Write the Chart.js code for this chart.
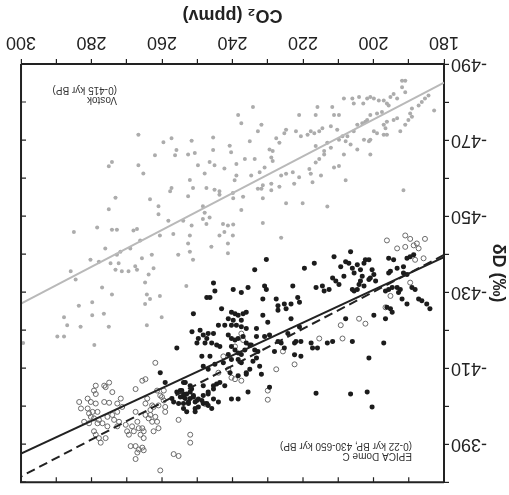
<!DOCTYPE html>
<html>
<head>
<meta charset="utf-8">
<script src="https://cdn.jsdelivr.net/npm/chart.js@4.4.1/dist/chart.umd.min.js"></script>
<style>
  html, body { margin: 0; padding: 0; background: #fff; }
  /* figure is printed upside down */
  #wrap { width: 509px; height: 495px; transform: rotate(180deg); }
</style>
</head>
<body>
<div id="wrap"><canvas id="co2Chart" width="509" height="495"></canvas></div>
<script>
// CO2 (ppmv) vs deltaD (permil) pairs
const vostok = [
  [191.9,-485.6],[191.0,-485.6],[191.9,-483.9],[191.0,-482.6],[184.4,-481.7],[185.4,-480.9],[186.3,-480.0],[187.2,-479.1],
  [182.8,-477.8],[189.1,-478.3],[189.6,-477.0],[189.1,-476.1],[190.1,-475.3],[191.0,-474.0],[192.4,-472.3],[194.3,-475.3],
  [193.3,-475.7],[196.2,-474.8],[197.1,-474.0],[196.6,-473.1],[199.0,-471.8],[197.1,-471.4],[196.2,-471.4],[199.9,-472.3],
  [200.9,-470.1],[202.7,-470.1],[200.9,-466.2],[204.6,-467.5],[206.5,-468.8],[207.9,-469.7],[207.4,-471.0],[208.8,-471.0],
  [205.6,-472.3],[204.6,-474.0],[203.2,-474.4],[202.3,-474.8],[201.8,-475.3],[204.1,-481.3],[206.0,-480.9],[205.6,-479.6],
  [202.9,-479.6],[201.8,-480.9],[200.9,-481.3],[199.9,-480.9],[198.5,-480.4],[197.1,-480.4],[196.2,-479.6],[195.2,-481.3],
  [194.3,-482.1],[193.3,-480.9],[195.7,-479.1],[199.0,-477.0],[197.6,-477.4],[200.9,-476.6],[208.4,-480.9],[211.7,-478.7],
  [209.8,-476.6],[211.2,-476.6],[212.1,-473.6],[210.3,-472.7],[215.9,-478.7],[216.4,-476.6],[221.1,-476.6],[214.5,-473.1],
  [215.4,-472.3],[217.8,-472.3],[218.7,-471.4],[216.8,-471.8],[220.6,-471.0],[222.0,-472.3],[224.8,-472.7],[225.3,-471.8],
  [227.6,-470.5],[226.7,-469.3],[229.5,-467.5],[228.6,-467.1],[229.0,-465.4],[228.6,-464.5],[231.8,-474.0],[232.8,-472.3],
  [234.2,-478.7],[238.4,-476.6],[237.5,-474.4],[235.1,-469.7],[236.5,-465.0],[238.9,-463.7],[233.7,-465.0],[230.9,-462.8],
  [232.3,-461.5],[234.7,-460.7],[238.9,-460.7],[239.4,-459.4],[232.8,-457.2],[231.4,-458.1],[231.8,-457.2],[229.0,-458.5],
  [229.0,-456.8],[226.7,-457.7],[226.2,-460.7],[224.8,-461.1],[222.9,-461.5],[222.5,-458.5],[221.1,-460.2],[218.2,-462.4],
  [217.8,-461.1],[217.3,-458.9],[214.9,-460.7],[216.4,-464.1],[215.4,-465.0],[214.0,-467.1],[214.0,-466.2],[212.1,-468.0],
  [211.2,-462.8],[209.8,-463.2],[207.9,-459.4],[208.4,-466.2],[201.3,-469.7],[191.5,-456.8],[224.8,-453.4],[220.1,-453.4],
  [213.1,-452.5],[231.4,-454.7],[237.0,-455.1],[237.5,-451.6],[239.8,-454.7],[239.8,-447.8],[231.4,-448.2],[226.2,-444.3],
  [216.4,-468.4],[213.1,-469.3],[209.8,-470.1],[243.7,-455.6],
  [266.7,-471.4],[259.6,-469.4],[257.3,-470.5],[251.6,-469.8],[245.5,-470.7],[240.8,-468.5],[240.4,-466.8],[245.5,-467.4],
  [255.9,-467.4],[256.3,-466.0],[252.6,-466.2],[250.7,-466.6],[262.0,-466.0],[266.7,-463.4],[265.3,-461.2],[274.2,-464.2],
  [275.1,-463.1],[249.8,-463.4],[246.5,-464.2],[245.1,-463.4],[242.3,-462.5],[247.9,-461.2],[252.1,-459.5],[251.2,-457.4],
  [247.4,-457.4],[245.1,-456.9],[243.7,-456.5],[239.9,-456.1],[257.3,-457.4],[257.7,-456.5],[263.4,-454.4],[261.0,-452.6],
  [261.0,-450.5],[273.2,-454.8],[275.1,-451.8],[252.6,-455.2],[248.4,-452.6],[247.9,-450.9],[246.5,-449.6],[248.4,-449.2],
  [247.4,-447.9],[251.6,-447.5],[254.0,-448.8],[258.2,-448.8],[242.7,-447.9],[241.3,-447.5],[242.3,-445.8],[243.7,-444.9],
  [239.9,-444.9],[241.3,-442.8],[241.3,-440.2],[246.0,-441.9],[252.1,-444.9],[252.6,-442.8],[252.1,-440.6],[251.2,-438.5],
  [255.4,-439.8],[256.8,-445.3],[260.6,-444.9],[266.2,-443.6],[267.1,-446.6],[268.1,-446.2],[272.8,-446.4],[274.2,-446.4],
  [278.4,-447.0],[285.0,-445.8],[269.0,-441.5],[271.8,-440.6],[272.8,-439.8],[276.1,-441.5],[280.3,-438.5],[277.9,-438.0],
  [274.6,-437.6],[272.3,-437.6],[273.2,-435.9],[271.4,-435.5],[269.5,-435.5],[267.6,-436.8],[267.1,-435.9],[265.7,-438.9],
  [262.9,-439.8],[262.4,-436.3],[263.8,-434.6],[285.9,-435.5],[284.5,-433.3],[277.0,-431.2],[274.2,-429.4],[264.8,-432.5],
  [264.3,-429.4],[263.4,-428.2],[260.6,-429.0],[264.8,-426.9],[253.1,-431.6],[283.6,-426.4],[279.8,-427.3],[276.5,-424.3],
  [279.8,-423.9],[287.8,-423.4],[286.9,-421.3],[283.1,-420.9],[275.1,-420.9],[264.3,-421.3],[260.1,-423.4],[289.7,-418.3],
  [287.8,-418.3],[299.4,-416.6],[279.2,-416.1]
];

const domeCFilled = [
  [233.7,-435.9],[230.4,-438.6],[230.9,-431.6],[230.4,-430.7],[231.4,-428.2],[227.6,-428.2],[227.1,-426.4],[227.1,-425.2],
  [225.3,-426.9],[224.8,-425.6],[223.4,-426.9],[221.5,-428.6],[221.0,-427.3],[222.9,-431.6],[219.6,-436.3],[216.8,-437.6],
  [216.3,-431.2],[214.5,-431.6],[214.0,-430.3],[212.6,-430.7],[211.2,-439.3],[211.6,-433.7],[210.7,-432.9],[209.3,-436.7],
  [209.8,-432.0],[208.4,-434.2],[206.5,-440.6],[207.9,-438.0],[207.0,-437.6],[206.0,-436.3],[205.5,-435.0],[204.6,-437.2],
  [203.7,-435.9],[202.7,-437.6],[202.3,-438.5],[201.3,-438.5],[203.2,-434.2],[203.7,-432.9],[204.1,-432.0],[206.0,-430.7],
  [205.5,-430.3],[204.6,-430.7],[202.7,-431.6],[201.3,-433.3],[200.4,-435.9],[200.9,-433.7],[199.9,-434.6],[199.4,-432.9],
  [195.7,-438.9],[194.3,-438.5],[195.7,-435.0],[195.2,-435.5],[193.3,-436.3],[191.5,-436.7],[190.5,-438.9],[189.6,-439.3],
  [188.6,-439.8],[191.5,-435.0],[190.5,-434.6],[196.6,-430.3],[195.7,-430.7],[194.7,-431.2],[193.3,-431.2],[192.4,-430.7],
  [192.9,-429.9],[191.9,-428.2],[190.5,-426.9],[189.1,-431.2],[188.2,-430.7],[187.2,-428.2],[186.3,-427.7],[184.9,-426.9],
  [184.0,-425.6],[196.2,-426.0],[195.2,-425.6],[194.7,-424.7],[196.6,-423.0],[199.9,-423.9],[207.9,-423.0],[223.4,-423.0],
  [230.0,-422.1],[233.2,-420.4],[233.2,-418.3],[230.9,-418.3],[229.5,-418.7],[227.1,-417.0],[225.3,-415.3],[222.4,-416.6],
  [222.0,-417.0],[220.6,-417.0],[222.4,-413.5],[220.6,-413.1],[217.7,-416.6],[217.3,-415.3],[215.9,-415.3],[213.1,-416.6],
  [211.6,-417.0],[206.0,-417.0],[197.1,-416.6],[201.3,-412.7],[231.8,-408.4],[229.5,-405.0],[216.3,-403.4],[206.5,-403.2],
  [201.8,-403.7],[200.4,-399.8],[234.7,-416.1],[233.7,-414.8],[232.8,-414.4],[233.2,-412.7],[234.2,-411.8],[232.3,-410.5],
  [228.1,-414.4],[226.2,-416.6],[224.3,-419.1],[231.4,-423.9],[221.0,-420.8],
  [245.4,-432.4],[245.0,-430.3],[247.3,-428.6],[246.4,-428.6],[239.8,-430.7],[237.5,-429.9],[235.6,-431.2],[243.1,-425.6],
  [251.1,-424.3],[240.3,-424.7],[239.3,-424.3],[238.4,-423.9],[237.0,-424.3],[236.1,-424.7],[241.2,-423.0],[239.8,-422.6],
  [237.5,-422.6],[244.0,-421.3],[242.2,-421.3],[240.3,-421.3],[238.9,-421.3],[237.5,-420.9],[236.1,-420.4],[251.5,-419.6],
  [249.2,-420.0],[248.3,-418.7],[246.9,-419.1],[245.4,-419.1],[249.7,-417.8],[247.3,-417.8],[250.1,-416.6],[247.8,-416.6],
  [245.9,-416.6],[244.5,-416.1],[243.6,-415.7],[241.2,-418.7],[240.3,-417.8],[239.3,-417.4],[238.4,-417.8],[237.0,-418.3],
  [236.1,-416.6],[235.1,-416.1],[240.3,-415.7],[239.3,-414.8],[238.4,-414.0],[237.5,-413.6],[236.5,-414.8],[241.2,-413.6],
  [240.3,-412.3],[238.4,-412.3],[237.5,-411.4],[255.8,-415.3],[248.7,-413.1],[246.4,-413.1],[248.3,-410.5],[246.9,-409.7],
  [245.0,-411.0],[242.6,-411.4],[240.7,-408.8],[238.4,-408.0],[236.1,-408.8],[235.1,-409.7],[260.5,-408.8],[253.4,-406.2],
  [254.4,-404.1],[253.0,-403.2],[253.9,-402.4],[252.0,-403.7],[251.1,-402.8],[252.5,-401.1],[250.6,-401.1],[249.7,-401.9],
  [248.3,-402.8],[246.9,-403.2],[245.4,-404.5],[244.5,-405.8],[243.6,-406.2],[242.2,-405.4],[245.4,-401.9],[244.0,-401.1],
  [246.9,-400.2],[245.9,-399.4],[250.6,-399.4],[240.3,-401.9],[238.4,-401.9],[235.6,-403.7],[236.1,-408.4],
  [259.1,-406.2],[253.9,-406.2],[252.0,-405.4],[251.6,-404.5],[248.3,-405.4],[246.9,-403.7],[255.8,-403.7],[254.8,-404.1],
  [253.9,-403.2],[254.8,-402.4],[253.4,-402.0],[252.0,-402.0],[251.1,-402.4],[250.1,-401.5],[248.7,-401.5],[255.3,-400.7],
  [253.9,-400.7],[252.5,-400.7],[253.9,-399.4],[253.0,-398.5],[250.6,-398.5],[249.7,-399.8],[248.3,-400.7],[257.2,-402.0],
  [256.7,-401.1],[247.3,-400.7],[245.4,-405.4]
];

const domeCOpen = [
  [196.2,-443.6],[193.3,-441.5],[191.0,-444.9],[189.6,-444.0],[188.6,-442.3],[187.7,-442.8],[187.2,-441.5],[185.4,-444.0],
  [185.8,-438.9],[188.2,-438.5],[189.6,-432.5],[195.2,-429.0],[196.6,-426.0],[209.3,-421.3],[204.1,-423.0],[202.3,-421.7],
  [215.4,-417.8],[208.8,-417.8],[225.7,-414.4],[222.4,-411.0],[227.6,-409.7],[230.0,-404.1],[230.0,-401.7],[191.0,-441.9],
  [261.9,-411.4],[265.6,-406.7],[264.7,-407.1],[267.5,-404.5],[259.5,-404.1],[260.0,-402.4],[262.8,-400.2],[259.1,-399.8],
  [247.8,-400.6],[244.0,-408.8],[241.2,-409.7],[240.3,-407.5],[239.3,-407.1],[237.5,-406.7],[237.0,-417.4],[239.3,-415.7],
  [237.5,-419.1],[242.6,-413.1],
  [278.8,-405.4],[276.4,-405.4],[275.0,-406.2],[276.0,-405.0],[279.3,-404.1],[278.8,-403.2],[274.1,-403.7],[283.5,-401.1],
  [280.2,-401.1],[278.8,-400.7],[276.4,-401.1],[275.0,-400.9],[283.0,-399.4],[281.1,-399.4],[280.7,-398.1],[278.3,-398.5],
  [280.2,-397.2],[279.3,-396.8],[277.9,-396.4],[282.1,-395.9],[280.7,-395.5],[278.3,-395.5],[276.9,-395.5],[275.5,-397.2],
  [274.1,-397.7],[272.7,-398.5],[271.3,-399.8],[273.6,-396.4],[272.2,-395.9],[272.7,-394.7],[275.5,-394.7],[279.3,-393.4],
  [278.8,-392.5],[277.9,-391.6],[276.0,-391.6],[277.4,-390.4],[270.3,-395.1],[269.9,-393.4],[268.5,-394.7],[268.0,-393.4],
  [269.4,-392.5],[267.0,-395.9],[266.6,-394.2],[265.6,-394.2],[265.2,-393.4],[266.1,-392.5],[265.2,-391.6],[264.7,-397.7],
  [263.8,-396.8],[262.8,-395.9],[261.9,-397.2],[261.4,-395.9],[261.0,-394.2],[262.4,-393.4],[263.3,-397.7],[267.5,-398.5],
  [268.9,-389.5],[267.5,-389.5],[266.6,-388.6],[265.6,-389.1],[265.2,-388.4],[267.0,-387.8],[267.5,-386.1],[261.4,-404.1],
  [260.5,-402.8],[259.5,-401.5],[261.0,-400.2],[263.3,-399.0],[262.4,-399.8],[264.7,-400.7],[264.2,-402.0],[259.1,-398.5],
  [256.7,-387.4],[255.3,-386.9],[260.5,-383.1],[252.0,-390.4],[252.0,-392.5],[255.3,-396.4],[272.7,-400.7],[281.1,-402.0],
  [279.7,-398.5],[271.7,-402.0]
];

// regression lines, evaluated at the ends of the CO2 axis
const fitCO2 = [180, 300];
const vostokFit = [-485.1, -427.0];
const domeCFit = [-439.2, -387.5];
const domeCGlacialFit = [-439.8, -381.5];

const co2Ticks = [180, 200, 220, 240, 260, 280, 300];
const dDTicks = [-490, -470, -450, -430, -410, -390];

const toPoints = arr => arr.map(p => ({ x: p[0], y: p[1] }));
const fitLine = ys => fitCO2.map((x, i) => ({ x: x, y: ys[i] }));

const INK = '#222';
const FONT = '"Liberation Sans", Arial, Helvetica, sans-serif';

// closes the box and puts inward ticks on the top and right sides
const framePlugin = {
  id: 'frame',
  afterDraw(chart) {
    const { ctx, chartArea: a, scales } = chart;
    ctx.save();
    ctx.strokeStyle = INK;
    ctx.lineWidth = 2;
    ctx.beginPath();
    ctx.moveTo(a.left, a.top); ctx.lineTo(a.right, a.top); ctx.lineTo(a.right, a.bottom);
    ctx.stroke();
    ctx.lineWidth = 1.2;
    ctx.beginPath();
    scales.x.ticks.forEach(t => {
      const px = scales.x.getPixelForValue(t.value);
      ctx.moveTo(px, a.top); ctx.lineTo(px, a.top + 5);
    });
    scales.y.ticks.forEach(t => {
      const py = scales.y.getPixelForValue(t.value);
      ctx.moveTo(a.right, py); ctx.lineTo(a.right - 5, py);
    });
    ctx.stroke();

    // in-panel labels
    ctx.fillStyle = '#333';
    ctx.font = '10px ' + FONT;
    ctx.textBaseline = 'middle';
    ctx.textAlign = 'left';
    ctx.fillText('EPICA Dome C', a.left + 32, a.top + 26);
    ctx.fillText('(0-22 kyr BP, 430-650 kyr BP)', a.left + 32, a.top + 36);
    ctx.fillText('Vostok', a.left + 327, a.top + 382);
    ctx.fillText('(0-415 kyr BP)', a.left + 327, a.top + 392);
    ctx.restore();
  }
};

new Chart(document.getElementById('co2Chart'), {
  type: 'scatter',
  data: {
    datasets: [
      { type: 'line', data: fitLine(domeCFit), borderColor: INK, borderWidth: 2, pointRadius: 0, order: 0 },
      { type: 'line', data: fitLine(domeCGlacialFit), borderColor: INK, borderWidth: 2, borderDash: [9, 5], pointRadius: 0, order: 0 },
      { type: 'line', data: fitLine(vostokFit), borderColor: '#b9b9b9', borderWidth: 2, pointRadius: 0, order: 1 },
      { data: toPoints(domeCFilled), backgroundColor: '#1c1c1c', borderWidth: 0, pointRadius: 2.5, order: 2 },
      { data: toPoints(domeCOpen), backgroundColor: 'rgba(255,255,255,0)', borderColor: '#6a6a6a', borderWidth: 1, pointRadius: 2.5, order: 3 },
      { data: toPoints(vostok), backgroundColor: '#acacac', borderWidth: 0, pointRadius: 2, order: 4 }
    ]
  },
  options: {
    responsive: false,
    animation: false,
    layout: { padding: { left: 0, right: 18, top: 5, bottom: 0 } },
    plugins: { legend: { display: false }, tooltip: { enabled: false } },
    scales: {
      x: {
        type: 'linear', min: 180, max: 300,
        afterFit: s => { s.height = 64; },
        ticks: {
          stepSize: 10, autoSkip: false, maxRotation: 0, padding: 6,
          color: INK, font: { family: FONT, size: 18 },
          callback: v => co2Ticks.includes(v) ? String(v) : ''
        },
        grid: { drawOnChartArea: false, drawTicks: true, tickLength: 5, color: INK, lineWidth: 1.2 },
        border: { color: INK, width: 2 },
        title: { display: true, text: 'CO\u2082 (ppmv)', color: INK, font: { family: FONT, size: 18, weight: 'bold' }, padding: { top: 0, bottom: 4 } }
      },
      y: {
        type: 'linear', min: -490, max: -380,
        afterFit: s => { s.width = 65; },
        ticks: {
          stepSize: 10, autoSkip: false, padding: 2,
          color: INK, font: { family: FONT, size: 18 },
          callback: v => dDTicks.includes(v) ? String(v) : ''
        },
        grid: { drawOnChartArea: false, drawTicks: true, tickLength: 5, color: INK, lineWidth: 1.2 },
        border: { color: INK, width: 2 },
        title: { display: true, text: '\u03b4D (\u2030)', color: INK, font: { family: FONT, size: 18, weight: 'bold' }, padding: { top: 0, bottom: 0 } }
      }
    }
  },
  plugins: [framePlugin]
});
</script>
</body>
</html>
